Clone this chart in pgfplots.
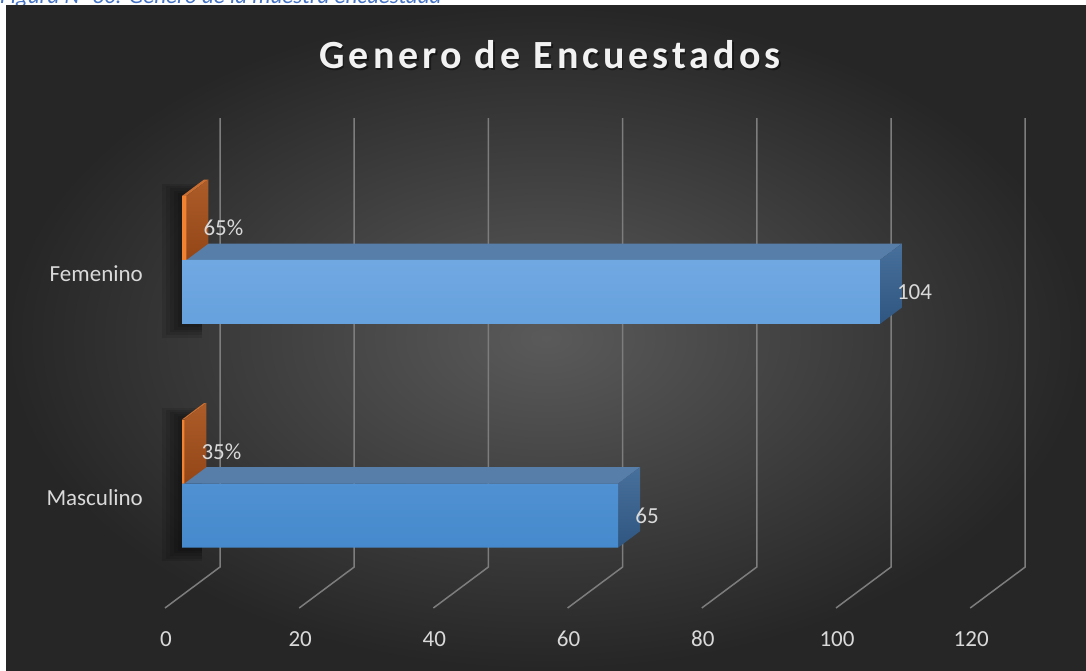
\documentclass[border=0pt]{standalone}
\usepackage{pgfplots}
\pgfplotsset{compat=1.18}
\usepackage{fontspec}
\setmainfont{Carlito}
\newfontfamily\titlefont[LetterSpace=10]{Carlito}

\definecolor{bgIn}{RGB}{90,90,90}
\definecolor{bgOut}{RGB}{38,38,38}
\definecolor{gridGray}{RGB}{125,125,125}
\definecolor{labelGray}{RGB}{217,217,217}
\definecolor{titleGray}{RGB}{242,242,242}
\definecolor{capBlue}{RGB}{68,114,196}
\definecolor{blueHi}{RGB}{112,168,226}
\definecolor{blueLo}{RGB}{70,138,205}
\definecolor{blueLid}{RGB}{86,126,168}
\definecolor{blueSideHi}{RGB}{72,112,156}
\definecolor{blueSideLo}{RGB}{46,86,128}
\definecolor{orangeFront}{RGB}{240,130,50}
\definecolor{orangeSideHi}{RGB}{172,92,40}
\definecolor{orangeSideLo}{RGB}{148,70,24}
\definecolor{orangeLid}{RGB}{200,110,50}

\begin{document}
\begin{tikzpicture}[x=1pt,y=1pt]
    \useasboundingbox (0,0) rectangle (1086,670);
    \fill[white] (0,0) rectangle (1086,670);

    % caption of the document, cut at the top
    \begin{scope}
        \clip (0,664) rectangle (1086,670);
        \node[anchor=base west, inner sep=0pt, text=capBlue,
            font=\fontsize{23}{23}\selectfont\itshape] at (0,666)
        {Figura N° 30: Género de la muestra encuestada};
    \end{scope}

    % dark chart area
    \shade[inner color=bgIn, outer color=bgOut] (6,0) rectangle (1086,664);

    % title with a soft shadow
    \node[text=black, opacity=0.45, font=\fontsize{40}{40}\selectfont\titlefont\bfseries]
    at (551.5,613.5) {Genero de Encuestados};
    \node[text=titleGray, font=\fontsize{40}{40}\selectfont\titlefont\bfseries]
    at (550,615) {Genero de Encuestados};

    \begin{axis}[
            at={(182pt,30.05pt)},
            anchor=south west,
            x=6.71pt,
            y=223.5pt,
            xmin=0, xmax=130,
            ymin=-0.7, ymax=1.7,
            enlargelimits=false,
            clip=false,
            axis line style={draw=none},
            tick style={draw=none},
            xtick={0,20,40,60,80,100,120},
            ytick={0,1},
            yticklabels={Masculino,Femenino},
            /pgf/number format/assume math mode=true,
            ticklabel style={font=\fontsize{23}{23}\selectfont, text=labelGray},
            xticklabel style={anchor=center, inner sep=0pt, xshift=-16pt, yshift=1pt},
            yticklabel style={anchor=east, inner sep=0pt, xshift=-39pt, yshift=-14pt},
            nodes near coords,
            point meta=explicit symbolic,
            every node near coord/.style={anchor=west, inner sep=0pt, xshift=17pt,
                    font=\fontsize{23}{23}\selectfont, text=labelGray},
        ]

        % 3D grid: back wall line, then floor line to the front
        \addplot[gridGray, line width=1.5pt, forget plot, nodes near coords=] coordinates {(5.663,1.635) (5.663,-0.3736) (-2.534,-0.557)};
        \addplot[gridGray, line width=1.5pt, forget plot, nodes near coords=] coordinates {(25.663,1.635) (25.663,-0.3736) (17.466,-0.557)};
        \addplot[gridGray, line width=1.5pt, forget plot, nodes near coords=] coordinates {(45.663,1.635) (45.663,-0.3736) (37.466,-0.557)};
        \addplot[gridGray, line width=1.5pt, forget plot, nodes near coords=] coordinates {(65.663,1.635) (65.663,-0.3736) (57.466,-0.557)};
        \addplot[gridGray, line width=1.5pt, forget plot, nodes near coords=] coordinates {(85.663,1.635) (85.663,-0.3736) (77.466,-0.557)};
        \addplot[gridGray, line width=1.5pt, forget plot, nodes near coords=] coordinates {(105.663,1.635) (105.663,-0.3736) (97.466,-0.557)};
        \addplot[gridGray, line width=1.5pt, forget plot, nodes near coords=] coordinates {(125.663,1.635) (125.663,-0.3736) (117.466,-0.557)};

        % soft shadows round the left end of the bars (stacked thin layers)
        \fill[black, fill opacity=0.11] (axis cs:-0.6,0.700) rectangle (axis cs:3,1.300);
        \fill[black, fill opacity=0.11] (axis cs:-1.2,0.688) rectangle (axis cs:3,1.310);
        \fill[black, fill opacity=0.11] (axis cs:-1.8,0.676) rectangle (axis cs:3,1.320);
        \fill[black, fill opacity=0.11] (axis cs:-2.4,0.664) rectangle (axis cs:3,1.330);
        \fill[black, fill opacity=0.11] (axis cs:-3.0,0.652) rectangle (axis cs:3,1.340);
        \fill[black, fill opacity=0.11] (axis cs:-0.6,-0.300) rectangle (axis cs:3,0.300);
        \fill[black, fill opacity=0.11] (axis cs:-1.2,-0.312) rectangle (axis cs:3,0.310);
        \fill[black, fill opacity=0.11] (axis cs:-1.8,-0.324) rectangle (axis cs:3,0.320);
        \fill[black, fill opacity=0.11] (axis cs:-2.4,-0.336) rectangle (axis cs:3,0.330);
        \fill[black, fill opacity=0.11] (axis cs:-3.0,-0.348) rectangle (axis cs:3,0.340);

        % lids (top faces) of the blue bars
        \addplot[fill=blueLid, draw=none, forget plot, nodes near coords=] coordinates {(0,1.0) (104,1.0) (107.279,1.0734) (3.279,1.0734)} -- cycle;
        \addplot[fill=blueLid, draw=none, forget plot, nodes near coords=] coordinates {(0,0) (65,0) (68.279,0.0734) (3.279,0.0734)} -- cycle;
        % right side faces of the blue bars
        \addplot[top color=blueSideHi, bottom color=blueSideLo, draw=none, forget plot, nodes near coords=] coordinates {(104,0.7136) (104,1.0) (107.279,1.0734) (107.279,0.7870)} -- cycle;
        \addplot[top color=blueSideHi, bottom color=blueSideLo, draw=none, forget plot, nodes near coords=] coordinates {(65,-0.2864) (65,0) (68.279,0.0734) (68.279,-0.2130)} -- cycle;
        % orange bars: lids and side faces
        \addplot[fill=orangeLid, draw=none, forget plot, nodes near coords=] coordinates {(0,1.2864) (0.65,1.2864) (3.929,1.3598) (3.279,1.3598)} -- cycle;
        \addplot[top color=orangeSideHi, bottom color=orangeSideLo, draw=none, forget plot, nodes near coords=] coordinates {(0.65,1.0) (0.65,1.2864) (3.929,1.3598) (3.929,1.0734)} -- cycle;
        \addplot[fill=orangeLid, draw=none, forget plot, nodes near coords=] coordinates {(0,0.2864) (0.35,0.2864) (3.629,0.3598) (3.279,0.3598)} -- cycle;
        \addplot[top color=orangeSideHi, bottom color=orangeSideLo, draw=none, forget plot, nodes near coords=] coordinates {(0.35,0) (0.35,0.2864) (3.629,0.3598) (3.629,0.0734)} -- cycle;

        % front faces: count of respondents
        \addplot[xbar, bar width=64pt, bar shift=-32pt, draw=none,
            top color=blueHi, bottom color=blueLo,
            every node near coord/.append style={yshift=-32pt}]
        coordinates {(65,0) [65] (104,1) [104]};
        % front faces: share of respondents
        \addplot[xbar, bar width=64pt, bar shift=32pt, draw=none,
            fill=orangeFront,
            every node near coord/.append style={yshift=32pt}]
        coordinates {(0.35,0) [35\%] (0.65,1) [65\%]};

    \end{axis}
\end{tikzpicture}
\end{document}
